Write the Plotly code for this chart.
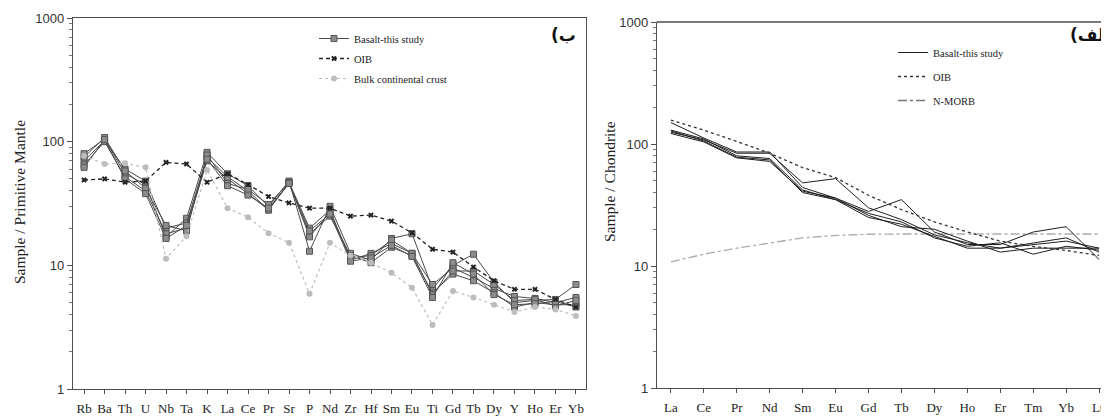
import plotly.graph_objects as go

# ---------------- data: primitive-mantle normalised spider diagram (left) ----------------
pm_elements = ["Rb", "Ba", "Th", "U", "Nb", "Ta", "K", "La", "Ce", "Pr", "Sr", "P", "Nd",
               "Zr", "Hf", "Sm", "Eu", "Ti", "Gd", "Tb", "Dy", "Y", "Ho", "Er", "Yb"]

pm_basalt_1 = [80, 105, 55, 45, 17, 24, 82, 55, 44, 30, 48, 13, 30, 12.5, 11, 16.5, 18, 6.5, 10, 12.3, 7.3, 5.0, 5.2, 5.3, 7.0]
pm_basalt_2 = [70, 102, 60, 48, 20, 22, 75, 52, 40, 28, 47, 20, 28, 11, 12.5, 15, 12.5, 7, 9.5, 8, 6.5, 5.6, 5.4, 5.0, 5.5]
pm_basalt_3 = [65, 100, 52, 40, 18, 20, 70, 50, 38, 28, 46, 18, 25, 12, 10.5, 14, 12, 6, 8.5, 7.5, 6, 4.6, 5.0, 4.8, 4.8]
pm_basalt_4 = [75, 108, 58, 42, 21, 19, 78, 46, 41, 31, 47, 17, 27, 11.5, 12, 16, 12.5, 5.8, 9, 9, 7, 5.2, 5.3, 4.7, 5.2]
pm_basalt_5 = [62, 104, 50, 38, 16.5, 21, 72, 44, 37, 29, 46, 19, 26, 10.8, 11.5, 14.5, 11.8, 5.5, 10.5, 8.5, 5.8, 4.8, 4.9, 5.1, 4.6]
pm_basalts = [pm_basalt_1, pm_basalt_2, pm_basalt_3, pm_basalt_4, pm_basalt_5]

pm_oib = [49, 50, 47, 48, 68, 66, 47, 55, 45, 36, 32, 29, 29, 25, 25.5, 22.8, 18.3, 13.5, 12.8, 9.7, 7.5, 6.4, 6.4, 5.3, 4.6]
pm_crust = [77, 66, 67, 62, 11.3, 17.2, 59, 29, 24.5, 18.2, 15.2, 5.9, 15.2, 12, 10.5, 8.7, 6.6, 3.3, 6.2, 5.5, 4.8, 4.2, 4.6, 4.4, 3.9]

# ---------------- data: chondrite normalised REE diagram (right) ----------------
ree_elements = ["La", "Ce", "Pr", "Nd", "Sm", "Eu", "Gd", "Tb", "Dy", "Ho", "Er", "Tm", "Yb", "Lu"]

ree_basalt_1 = [150, 112, 86, 86, 44, 36, 28, 35, 19, 15, 15, 19, 21, 11.3]
ree_basalt_2 = [125, 108, 84, 84, 48, 52, 30, 24, 18, 15.5, 14, 15, 16, 14]
ree_basalt_3 = [130, 110, 80, 76, 42, 35, 27, 23, 17, 14.5, 15.5, 12.5, 14.5, 13.5]
ree_basalt_4 = [128, 106, 78, 74, 40, 35, 25, 22, 17.5, 14, 14, 15.5, 17, 13]
ree_basalt_5 = [122, 104, 77, 72, 41, 36, 26, 21, 20, 16, 13, 14, 14, 14]
ree_basalts = [ree_basalt_1, ree_basalt_2, ree_basalt_3, ree_basalt_4, ree_basalt_5]

ree_oib = [157, 130, 105, 84, 64, 53, 38, 29, 23, 19, 16, 14.5, 13.4, 12.2]
ree_nmorb = [10.8, 12.5, 14, 15.5, 17, 17.8, 18.2, 18.3, 18.3, 18.3, 18.3, 18.3, 18.3, 18.3]

y_ticks = [1, 10, 100, 1000]

# ---------------- figure ----------------
fig = go.Figure()

for i, ys in enumerate(pm_basalts):
    fig.add_trace(go.Scatter(
        x=pm_elements, y=ys, mode="lines+markers", xaxis="x", yaxis="y",
        line=dict(color="#4a4a4a", width=1),
        marker=dict(symbol="square", size=6, color="#8c8c8c", line=dict(color="#555555", width=1)),
        name="Basalt-this study", legendgroup="bas", showlegend=(i == 0), legend="legend"))
fig.add_trace(go.Scatter(
    x=pm_elements, y=pm_oib, mode="lines+markers", xaxis="x", yaxis="y",
    line=dict(color="#222222", width=1.3, dash="4px,3px"),
    marker=dict(symbol="x", size=5, color="#222222"),
    name="OIB", legendgroup="oib", legend="legend"))
fig.add_trace(go.Scatter(
    x=pm_elements, y=pm_crust, mode="lines+markers", xaxis="x", yaxis="y",
    line=dict(color="#bdbdbd", width=1.2, dash="dot"),
    marker=dict(symbol="circle", size=6, color="#bdbdbd"),
    name="Bulk continental crust", legendgroup="crust", legend="legend"))

fig.add_trace(go.Scatter(
    x=ree_elements, y=ree_nmorb, mode="lines", xaxis="x2", yaxis="y2",
    line=dict(color="#aaaaaa", width=1.3, dash="dashdot"),
    name="N-MORB", legendgroup="nmorb", legend="legend2", showlegend=False))
for i, ys in enumerate(ree_basalts):
    fig.add_trace(go.Scatter(
        x=ree_elements, y=ys, mode="lines", xaxis="x2", yaxis="y2",
        line=dict(color="#1e1e1e", width=1),
        name="Basalt-this study", legendgroup="bas2", showlegend=(i == 0), legend="legend2"))
fig.add_trace(go.Scatter(
    x=ree_elements, y=ree_oib, mode="lines", xaxis="x2", yaxis="y2",
    line=dict(color="#333333", width=1.3, dash="3px,3px"),
    name="OIB", legendgroup="oib2", legend="legend2"))
# legend entry for N-MORB (placed after OIB)
fig.add_trace(go.Scatter(
    x=[None], y=[None], mode="lines", xaxis="x2", yaxis="y2",
    line=dict(color="#777777", width=1.3, dash="dashdot"),
    name="N-MORB", legendgroup="nmorb2", legend="legend2"))

# the page body has an 8 px margin; the figure fills the remaining window
OFF = 8
W, H = 1109 - OFF, 417 - OFF
def px_x(p): return (p - OFF) / W
def px_y(p): return 1 - (p - OFF) / H

axis_line = dict(showline=True, linecolor="#4d4d4d", linewidth=1.3, zeroline=False,
                 showgrid=False, automargin=False)
xfont = dict(family="Liberation Serif", size=13, color="#222222")
yfont = dict(family="Liberation Sans", size=13, color="#333333")

fig.update_layout(
    template="none",
    width=W, height=H, autosize=False,
    margin=dict(l=0, r=0, t=0, b=0, pad=0),
    paper_bgcolor="white", plot_bgcolor="white",
    showlegend=True,
    xaxis=dict(domain=[px_x(73), px_x(586)], anchor="y", type="category",
               range=[-0.54, 24.49], mirror=True, ticks="outside", ticklen=4,
               tickcolor="#4d4d4d", tickfont=xfont, ticklabelstandoff=3, **axis_line),
    yaxis=dict(domain=[px_y(389), px_y(18)], anchor="x", type="log", range=[0, 3],
               tickvals=y_ticks, ticktext=[str(v) for v in y_ticks], mirror=True,
               ticks="outside", ticklen=5, tickcolor="#4d4d4d", tickfont=yfont,
               ticklabelstandoff=0,
               minor=dict(ticks="outside", ticklen=3, tickcolor="#777777", dtick="D1",
                          showgrid=False),
               **axis_line),
    xaxis2=dict(domain=[px_x(657), 1.0], anchor="y2", type="category",
                range=[-0.42, 13.3], ticks="outside", ticklen=4,
                tickcolor="#4d4d4d", tickfont=xfont, ticklabelstandoff=3, **axis_line),
    yaxis2=dict(domain=[px_y(388), px_y(22)], anchor="x2", type="log", range=[0, 3],
                tickvals=y_ticks, ticktext=[str(v) for v in y_ticks],
                ticks="outside", ticklen=5, tickcolor="#4d4d4d", tickfont=yfont,
                ticklabelstandoff=0,
                minor=dict(ticks="outside", ticklen=3, tickcolor="#777777", dtick="D1",
                           showgrid=False),
                **axis_line),
    legend=dict(x=px_x(314), y=px_y(24), xanchor="left", yanchor="top",
                bgcolor="rgba(0,0,0,0)", borderwidth=0, itemwidth=30,
                traceorder="grouped", tracegroupgap=1,
                font=dict(family="Liberation Serif", size=10.5, color="#222222")),
    legend2=dict(x=px_x(893), y=px_y(38), xanchor="left", yanchor="top",
                 bgcolor="rgba(0,0,0,0)", borderwidth=0, itemwidth=30,
                 traceorder="grouped", tracegroupgap=5,
                 font=dict(family="Liberation Serif", size=10.5, color="#222222")),
)

# top border of the right panel (right edge is cut by the image)
fig.add_shape(type="line", xref="paper", yref="paper",
              x0=px_x(657), x1=1.0, y0=px_y(22), y1=px_y(22),
              line=dict(color="#4d4d4d", width=1.3))

annotations = [
    dict(text="Sample / Primitive Mantle", x=px_x(19), y=px_y(202), textangle=-90,
         font=dict(family="Liberation Serif", size=15.5, color="#222222")),
    dict(text="Sample / Chondrite", x=px_x(609), y=px_y(182), textangle=-90,
         font=dict(family="Liberation Serif", size=15.5, color="#222222")),
    dict(text="<b>(ب</b>", x=px_x(578), y=px_y(35), xanchor="right",
         font=dict(family="DejaVu Sans", size=17, color="#111111")),
    dict(text="<b>(الف</b>", x=px_x(1112), y=px_y(35), xanchor="right",
         font=dict(family="DejaVu Sans", size=17, color="#111111")),
]
for a in annotations:
    a.setdefault("xanchor", "center")
    a.update(xref="paper", yref="paper", showarrow=False, yanchor="middle")
    fig.add_annotation(**a)

fig.write_html("out.html")
